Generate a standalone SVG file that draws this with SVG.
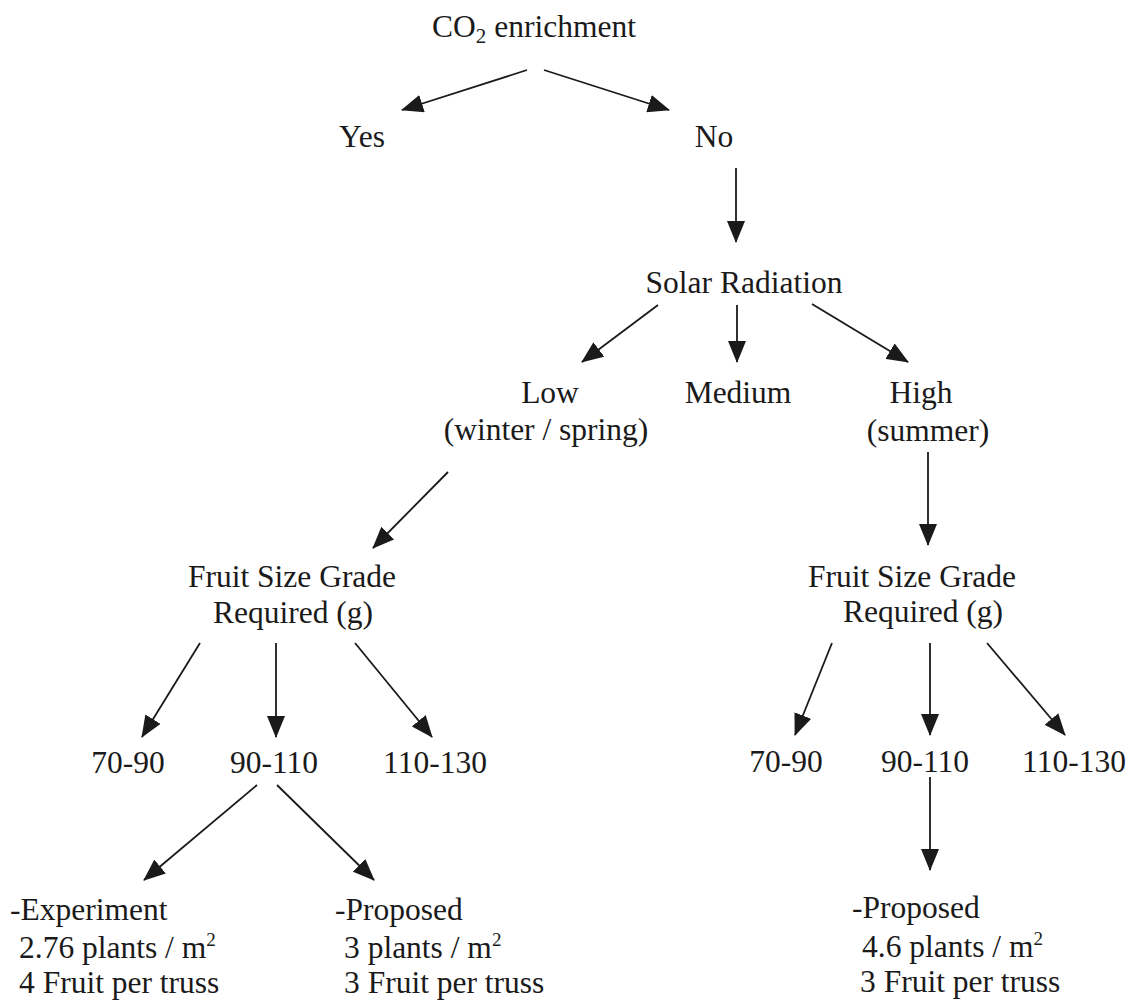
<svg xmlns="http://www.w3.org/2000/svg" width="1139" height="1001" viewBox="0 0 1139 1001">
<style>
text{font-family:"Liberation Serif","Times New Roman",serif;font-size:31.5px;fill:#1a1a1a}
.c{text-anchor:middle}
.conn line{stroke:#1a1a1a;stroke-width:1.8;marker-end:url(#ah)}
</style>
<defs>
<marker id="ah" viewBox="0 0 22 18" refX="21" refY="9" markerWidth="22" markerHeight="18" markerUnits="userSpaceOnUse" orient="auto">
<path d="M0,0 L22,9 L0,18 z" fill="#1a1a1a"/>
</marker>
</defs>
<rect width="1139" height="1001" fill="#fff"/>
<g id="connectors" class="conn">
<line x1="527" y1="70" x2="402" y2="110"/>
<line x1="544" y1="70" x2="669" y2="110"/>
<line x1="736" y1="168" x2="736" y2="242"/>
<line x1="658" y1="305" x2="582" y2="362"/>
<line x1="737" y1="305" x2="737" y2="362"/>
<line x1="812" y1="304" x2="908" y2="362"/>
<line x1="448" y1="472" x2="373" y2="548"/>
<line x1="928" y1="452" x2="928" y2="545"/>
<line x1="200" y1="643" x2="142" y2="737"/>
<line x1="276" y1="643" x2="276" y2="737"/>
<line x1="355" y1="643" x2="432" y2="737"/>
<line x1="257" y1="785" x2="144" y2="880"/>
<line x1="277" y1="785" x2="374" y2="880"/>
<line x1="832" y1="643" x2="795" y2="735"/>
<line x1="930" y1="643" x2="930" y2="735"/>
<line x1="987" y1="643" x2="1065" y2="735"/>
<line x1="930" y1="777" x2="930" y2="870"/>
</g>
<g id="co2"><text class="c" x="534" y="37">CO<tspan font-size="21" dy="6">2</tspan><tspan dy="-6"> enrichment</tspan></text></g>
<g id="yes"><text class="c" x="362" y="147">Yes</text></g>
<g id="no"><text class="c" x="714" y="147">No</text></g>
<g id="solar"><text class="c" x="744" y="293">Solar Radiation</text></g>
<g id="low"><text class="c" x="550" y="403">Low</text><text class="c" x="546" y="440">(winter / spring)</text></g>
<g id="medium"><text class="c" x="738" y="403">Medium</text></g>
<g id="high"><text class="c" x="921" y="403">High</text><text class="c" x="928" y="441">(summer)</text></g>
<g id="fruit-left"><text class="c" x="292" y="587">Fruit Size Grade</text><text class="c" x="293" y="623">Required (g)</text></g>
<g id="fruit-right"><text class="c" x="912" y="587">Fruit Size Grade</text><text class="c" x="923" y="622">Required (g)</text></g>
<g id="l70"><text class="c" x="128" y="773">70-90</text></g>
<g id="l90"><text class="c" x="274" y="773">90-110</text></g>
<g id="l110"><text class="c" x="435" y="773">110-130</text></g>
<g id="r70"><text class="c" x="786" y="772">70-90</text></g>
<g id="r90"><text class="c" x="925" y="772">90-110</text></g>
<g id="r110"><text class="c" x="1074" y="772">110-130</text></g>
<g id="experiment">
<text x="10" y="920">-Experiment</text>
<text x="19" y="958">2.76 plants / m<tspan font-size="19" dy="-12">2</tspan></text>
<text x="19" y="993">4 Fruit per truss</text>
</g>
<g id="proposed-left">
<text x="335" y="920">-Proposed</text>
<text x="344" y="958">3 plants / m<tspan font-size="19" dy="-12">2</tspan></text>
<text x="344" y="993">3 Fruit per truss</text>
</g>
<g id="proposed-right">
<text x="852" y="918">-Proposed</text>
<text x="862" y="957">4.6 plants / m<tspan font-size="19" dy="-12">2</tspan></text>
<text x="860" y="992">3 Fruit per truss</text>
</g>
</svg>
